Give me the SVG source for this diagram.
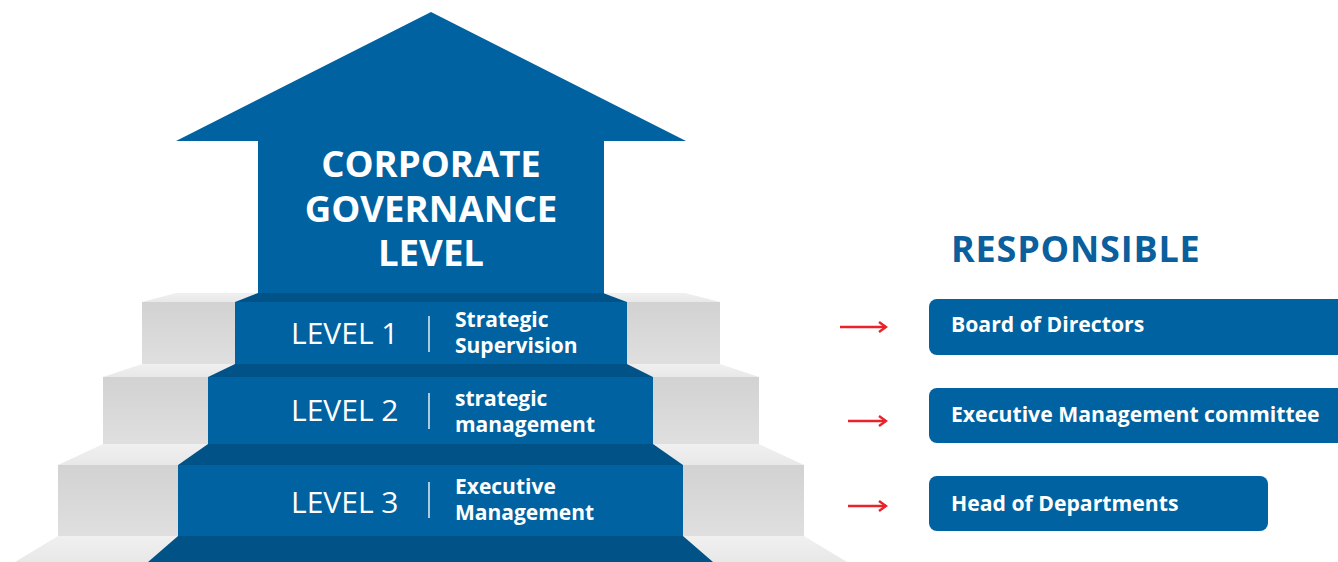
<svg xmlns="http://www.w3.org/2000/svg" width="1338" height="562" viewBox="0 0 1338 562">
<defs>
<linearGradient id="gface" x1="0" y1="0" x2="0" y2="1"><stop offset="0" stop-color="#d2d2d2"/><stop offset="1" stop-color="#dfdfdf"/></linearGradient>
<linearGradient id="gtop" x1="0" y1="0" x2="0" y2="1"><stop offset="0" stop-color="#f0f0f0"/><stop offset="1" stop-color="#e8e8e8"/></linearGradient>
<marker id="ah" viewBox="0 0 12 12" refX="10" refY="6" markerWidth="12" markerHeight="12" markerUnits="userSpaceOnUse" orient="auto"><path d="M3,1 L10,6 L3,11" fill="none" stroke="#e8232a" stroke-width="2.4"/></marker>
<style>
.face{fill:#0062a0}
.band{fill:#005287}
.gface{fill:url(#gface)}
.gtop{fill:url(#gtop)}
.lvl{font-family:"Open Sans","Noto Sans",sans-serif;font-weight:400;font-size:30px;fill:#ffffff}
.desc{font-family:"Open Sans","Noto Sans",sans-serif;font-weight:700;font-size:21px;fill:#ffffff}
.div{stroke:#d8e4ee;stroke-width:1.6}
.title{font-family:"Open Sans","Noto Sans",sans-serif;font-weight:700;font-size:36.6px;fill:#ffffff;text-anchor:middle}
.resp{font-family:"Open Sans","Noto Sans",sans-serif;font-weight:700;font-size:36px;letter-spacing:0.8px;fill:#0a5f9c}
.box{fill:#0062a0}
.btxt{font-family:"Open Sans","Noto Sans",sans-serif;font-weight:700;font-size:21.2px;fill:#ffffff}
.conn{stroke:#e8232a;stroke-width:2.4;fill:none}
</style>
</defs>
<rect width="1338" height="562" fill="#ffffff"/>
<g id="stairs-left">
<polygon class="gtop" points="176,293 258,293 235,302 142,302"/>
<rect class="gface" x="142" y="302" width="93" height="62"/>
<polygon class="gtop" points="142,364 235,364 208,377 103,377"/>
<rect class="gface" x="103" y="377" width="105" height="67"/>
<polygon class="gtop" points="103,444 208,444 178,465 58,465"/>
<rect class="gface" x="58" y="465" width="120" height="71"/>
<polygon class="gtop" points="58,536 178,536 148,562 15,562"/>
</g>
<g id="stairs-right">
<polygon class="gtop" points="603,293 685,293 720,302 627,302"/>
<rect class="gface" x="627" y="302" width="93" height="62"/>
<polygon class="gtop" points="627,364 720,364 759,377 653,377"/>
<rect class="gface" x="653" y="377" width="106" height="67"/>
<polygon class="gtop" points="653,444 759,444 804,465 683,465"/>
<rect class="gface" x="683" y="465" width="121" height="71"/>
<polygon class="gtop" points="683,536 804,536 847,562 713,562"/>
</g>
<g id="arrow">
<polygon class="face" points="431,12 686,141 604,141 604,294 258,294 258,141 176,141"/>
<text class="title" x="431" y="177">CORPORATE</text>
<text class="title" x="431" y="222">GOVERNANCE</text>
<text class="title" x="431" y="266">LEVEL</text>
</g>
<g id="level1">
<polygon class="band" points="258,293 603,293 627,302 235,302"/>
<rect class="face" x="235" y="302" width="392" height="62"/>
<text class="lvl" x="291" y="344">LEVEL 1</text>
<line class="div" x1="429" y1="316" x2="429" y2="352"/>
<text class="desc" x="455" y="327">Strategic</text>
<text class="desc" x="455" y="353">Supervision</text>
</g>
<g id="level2">
<polygon class="band" points="235,364 627,364 653,377 208,377"/>
<rect class="face" x="208" y="377" width="445" height="67"/>
<text class="lvl" x="291" y="421">LEVEL 2</text>
<line class="div" x1="429" y1="393" x2="429" y2="429"/>
<text class="desc" x="455" y="406">strategic</text>
<text class="desc" x="455" y="432">management</text>
</g>
<g id="level3">
<polygon class="band" points="208,444 653,444 683,465 178,465"/>
<rect class="face" x="178" y="465" width="505" height="71"/>
<text class="lvl" x="291" y="513">LEVEL 3</text>
<line class="div" x1="429" y1="482" x2="429" y2="518"/>
<text class="desc" x="455" y="494">Executive</text>
<text class="desc" x="455" y="520">Management</text>
</g>
<g id="base">
<polygon class="band" points="178,536 683,536 713,562 148,562"/>
</g>
<g id="responsible">
<text class="resp" x="951" y="262">RESPONSIBLE</text>
</g>
<g id="board">
<rect class="box" x="929" y="299" width="420" height="56" rx="8"/>
<text class="btxt" x="951" y="332">Board of Directors</text>
</g>
<g id="exec-committee">
<rect class="box" x="929" y="388" width="420" height="55" rx="8"/>
<text class="btxt" x="951" y="422">Executive Management committee</text>
</g>
<g id="heads">
<rect class="box" x="929" y="476" width="339" height="55" rx="8"/>
<text class="btxt" x="951" y="511">Head of Departments</text>
</g>
<g id="connectors">
<line class="conn" x1="840" y1="327" x2="886" y2="327" marker-end="url(#ah)"/>
<line class="conn" x1="848" y1="421" x2="886" y2="421" marker-end="url(#ah)"/>
<line class="conn" x1="848" y1="506" x2="886" y2="506" marker-end="url(#ah)"/>
</g>
</svg>
